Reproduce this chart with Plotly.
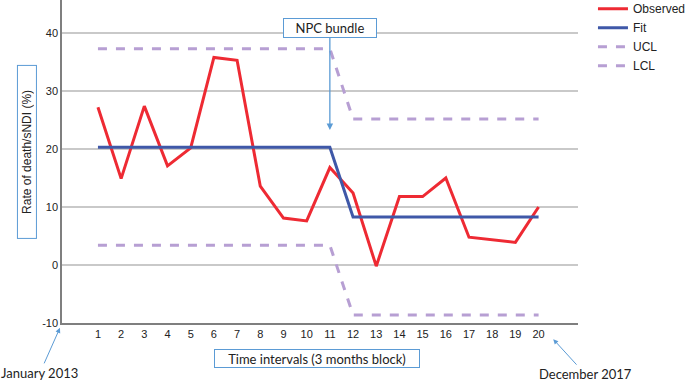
import plotly.graph_objects as go

intervals = list(range(1, 21))
observed = [27.2, 14.9, 27.4, 17.1, 20.2, 35.8, 35.3, 13.6, 8.1, 7.6,
            16.8, 12.4, -0.2, 11.8, 11.8, 15.0, 4.8, 4.4, 3.9, 10.0]
fit = [20.3] * 11 + [8.3] * 9
ucl = [37.3] * 11 + [25.2] * 9
lcl = [3.4] * 11 + [-8.6] * 9
ytick_vals = [-10, 0, 10, 20, 30, 40]
ytick_text = ["-10", "0", "10", "20", "30", "40"]

RED = "#ee2a33"
BLUE = "#3f58a8"
LAV = "#b79fd3"
ABLUE = "#5b9bd5"

fig = go.Figure()
fig.add_trace(go.Scatter(x=intervals, y=observed, name="Observed", mode="lines",
                         line=dict(color=RED, width=3)))
fig.add_trace(go.Scatter(x=intervals, y=fit, name="Fit", mode="lines",
                         line=dict(color=BLUE, width=3)))
fig.add_trace(go.Scatter(x=intervals, y=ucl, name="UCL", mode="lines",
                         line=dict(color=LAV, width=3, dash="dash")))
fig.add_trace(go.Scatter(x=intervals, y=lcl, name="LCL", mode="lines",
                         line=dict(color=LAV, width=3, dash="dash")))

annot_font = dict(family="Lato, Liberation Sans, Arial", size=13, color="#222222")

fig.update_layout(
    width=685, height=381,
    margin=dict(l=62, r=107, t=0, b=58, autoexpand=False),
    paper_bgcolor="white", plot_bgcolor="white",
    font=dict(family="Liberation Sans, Arial", size=11, color="#222222"),
    showlegend=True,
    legend=dict(x=1.029, y=1.018, xanchor="left", yanchor="top",
                font=dict(family="Liberation Sans, Arial", size=12, color="#222222"),
                tracegroupgap=0, itemwidth=30, bgcolor="rgba(0,0,0,0)"),
    xaxis=dict(range=[-0.55, 21.7], tickmode="array", tickvals=intervals,
               ticktext=[str(i) for i in intervals], showgrid=False, zeroline=False,
               showline=True, linecolor="#7f7f7f", linewidth=1.5, ticks="",
               tickfont=dict(size=11, color="#222222")),
    yaxis=dict(range=[-10, 45.7], tickmode="array", tickvals=ytick_vals,
               ticktext=ytick_text,
               showgrid=True, gridcolor="#c9c9c9", gridwidth=1.5, zeroline=False,
               showline=True, linecolor="#7f7f7f", linewidth=1.5, ticks="",
               tickfont=dict(size=11, color="#222222")),
    annotations=[
        dict(text="Rate of death/sNDI (%)", xref="paper", yref="paper",
             x=-0.067, y=0.531, xanchor="center", yanchor="middle",
             textangle=-90, showarrow=False,
             font=dict(family="Liberation Sans, Arial", size=12, color="#222222"),
             bordercolor=ABLUE, borderwidth=1, borderpad=2, width=168, height=14,
             bgcolor="white"),
        dict(text="Time intervals (3 months block)", xref="paper", yref="paper",
             x=0.494, y=-0.111, xanchor="center", yanchor="middle",
             showarrow=False, font=annot_font,
             bordercolor=ABLUE, borderwidth=1, borderpad=1, width=202, height=15,
             bgcolor="white"),
        dict(text="NPC bundle", x=11, y=23.3, xref="x", yref="y",
             showarrow=True, ax=0, ay=-102, arrowhead=2, arrowsize=1, arrowwidth=1.3,
             arrowcolor=ABLUE, font=annot_font, bordercolor=ABLUE, borderwidth=1,
             borderpad=2, width=88, height=14, bgcolor="white"),
        dict(text="January 2013", xref="paper", yref="paper", x=-0.004, y=-0.015,
             showarrow=True, ax=-20, ay=45, arrowhead=2, arrowsize=1, arrowwidth=1,
             arrowcolor=ABLUE, font=annot_font),
        dict(text="December 2017", xref="paper", yref="paper", x=0.952, y=-0.05,
             showarrow=True, ax=32, ay=35, arrowhead=2, arrowsize=1, arrowwidth=1,
             arrowcolor=ABLUE, font=annot_font),
    ],
)

fig.write_html("out.html", config={"displayModeBar": False},
               post_script="document.body.style.margin='0';")
